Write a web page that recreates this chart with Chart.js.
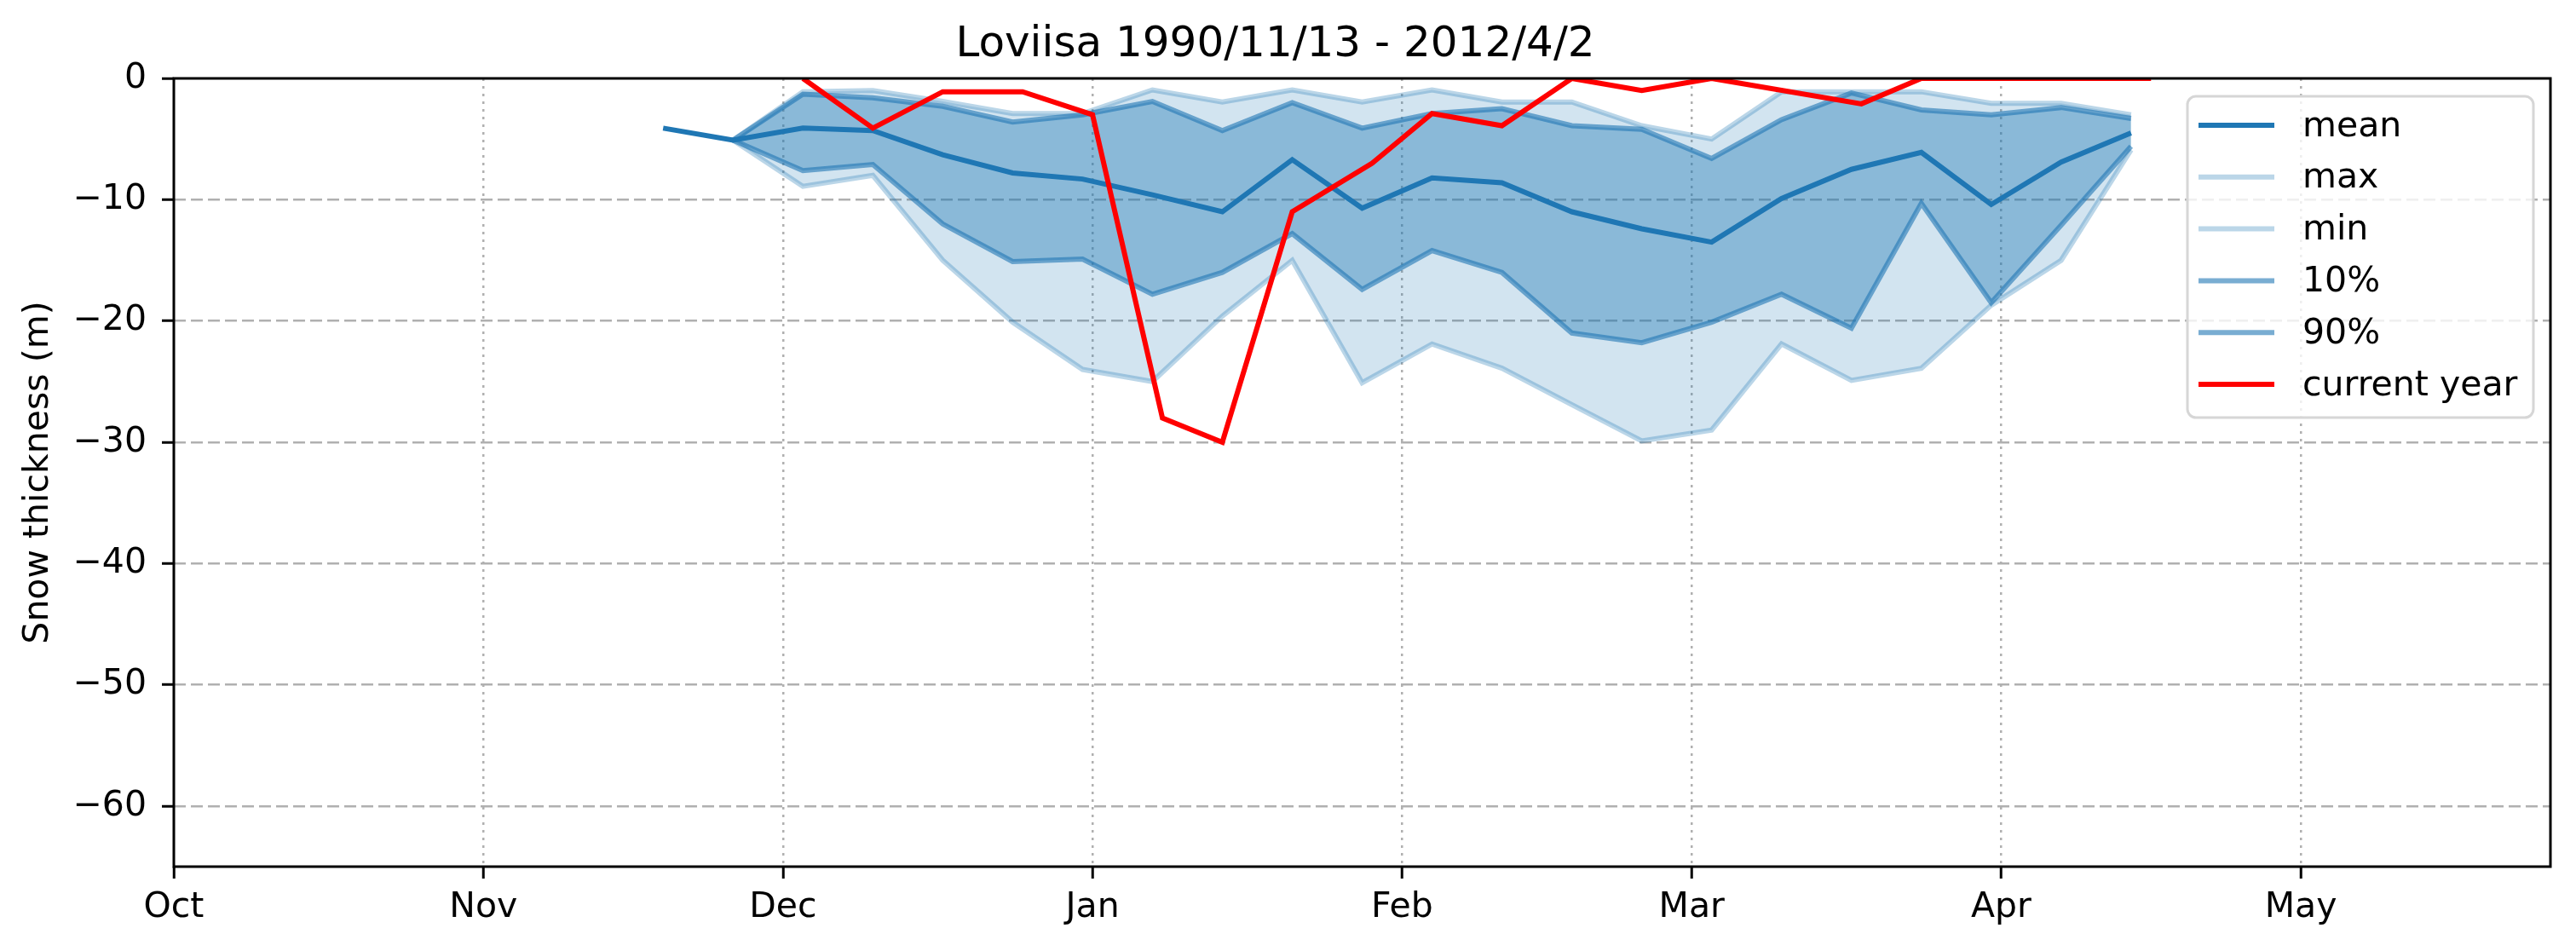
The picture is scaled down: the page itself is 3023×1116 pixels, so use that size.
<!DOCTYPE html>
<html>
<head>
<meta charset="utf-8">
<script src="https://cdn.jsdelivr.net/npm/chart.js@4.4.0/dist/chart.umd.min.js"></script>
<style>
  body { margin: 0; background: #fff; }
  #wrap { width: 3023px; height: 1116px; }
</style>
</head>
<body>
<div id="wrap"><canvas id="myChart"></canvas></div>
<script>
// x values are days since 1 Oct
const monthNames = ['Oct', 'Nov', 'Dec', 'Jan', 'Feb', 'Mar', 'Apr', 'May'];
const monthStarts = [0, 31, 61, 92, 123, 152, 183, 213];
const yTicks = [-60, -50, -40, -30, -20, -10, 0];

const meanDays = [49, 56, 63, 70, 77, 84, 91, 98, 105, 112, 119, 126, 133, 140, 147, 154, 161, 168, 175, 182, 189, 196];
const meanVals = [-4.1, -5.1, -4.1, -4.3, -6.3, -7.8, -8.3, -9.6, -11.0, -6.7, -10.7, -8.2, -8.6, -11.0, -12.4, -13.5, -9.9, -7.5, -6.1, -10.4, -6.9, -4.5];

const statDays = [56, 63, 70, 77, 84, 91, 98, 105, 112, 119, 126, 133, 140, 147, 154, 161, 168, 175, 182, 189, 196];
const maxVals = [-5.1, -1.1, -1.0, -1.9, -2.9, -2.9, -0.95, -1.95, -0.95, -1.95, -0.95, -1.95, -1.95, -3.9, -5.0, -1.1, -1.1, -1.1, -2.05, -2.05, -3.0];
const minVals = [-5.1, -8.9, -8.0, -15.0, -20.1, -24.0, -25.0, -19.6, -15.0, -25.1, -21.9, -23.9, -26.9, -29.9, -29.0, -21.9, -24.9, -23.9, -18.7, -15.0, -5.9];
const p10Vals = [-5.1, -7.6, -7.1, -12.0, -15.1, -14.9, -17.8, -16.0, -12.8, -17.4, -14.2, -16.0, -21.0, -21.8, -20.1, -17.8, -20.6, -10.3, -18.5, -12.1, -5.6];
const p90Vals = [-5.1, -1.3, -1.6, -2.3, -3.6, -3.0, -1.9, -4.3, -2.0, -4.1, -2.9, -2.5, -3.9, -4.2, -6.6, -3.4, -1.2, -2.6, -3.0, -2.4, -3.3];

const currDays = [63, 70, 77, 85, 92, 99, 105, 112, 120, 126, 133, 140, 147, 154, 169, 175, 198];
const currVals = [0, -4.1, -1.1, -1.1, -3.0, -28.0, -30.0, -11.0, -7.0, -2.9, -3.9, 0, -1.0, 0, -2.1, 0, 0];

function pts(days, vals) {
    return days.map((d, i) => ({ x: d, y: vals[i] }));
}

const blue = 'rgba(31, 119, 180, 1)';
const font = 'DejaVu Sans';

// frame around the plot area
const framePlugin = {
    id: 'frame',
    afterDatasetsDraw(chart) {
        const a = chart.chartArea;
        const ctx = chart.ctx;
        ctx.save();
        ctx.strokeStyle = '#000';
        ctx.lineWidth = 3;
        ctx.strokeRect(a.left, a.top, a.right - a.left, a.bottom - a.top);
        ctx.restore();
    }
};

// matplotlib-like legend in the upper right corner
const legendPlugin = {
    id: 'boxLegend',
    afterDraw(chart) {
        const ctx = chart.ctx;
        const x = 2567, y = 113, w = 406, h = 377, r = 10;
        ctx.save();
        ctx.beginPath();
        ctx.roundRect(x, y, w, h, r);
        ctx.fillStyle = 'rgba(255,255,255,0.8)';
        ctx.fill();
        ctx.strokeStyle = '#d6d6d6';
        ctx.lineWidth = 3;
        ctx.stroke();
        ctx.font = '41px "' + font + '"';
        ctx.textBaseline = 'middle';
        ctx.fillStyle = '#000';
        chart.data.datasets.forEach((ds, i) => {
            const ly = 147 + i * 60.8;
            ctx.beginPath();
            ctx.strokeStyle = ds.borderColor;
            ctx.lineWidth = 6;
            ctx.moveTo(2580, ly);
            ctx.lineTo(2669, ly);
            ctx.stroke();
            ctx.fillText(ds.label, 2702, ly + 2);
        });
        ctx.restore();
    }
};

const canvas = document.getElementById('myChart');

new Chart(canvas, {
    type: 'line',
    data: {
        datasets: [
            {
                label: 'mean',
                data: pts(meanDays, meanVals),
                borderColor: blue,
                borderWidth: 6,
                order: 1
            },
            {
                label: 'max',
                data: pts(statDays, maxVals),
                borderColor: 'rgba(31, 119, 180, 0.3)',
                borderWidth: 6,
                fill: { target: 2 },
                backgroundColor: 'rgba(31, 119, 180, 0.2)',
                order: 4
            },
            {
                label: 'min',
                data: pts(statDays, minVals),
                borderColor: 'rgba(31, 119, 180, 0.3)',
                borderWidth: 6,
                order: 5
            },
            {
                label: '10%',
                data: pts(statDays, p10Vals),
                borderColor: 'rgba(31, 119, 180, 0.6)',
                borderWidth: 6,
                order: 2
            },
            {
                label: '90%',
                data: pts(statDays, p90Vals),
                borderColor: 'rgba(31, 119, 180, 0.6)',
                borderWidth: 6,
                fill: { target: 3 },
                backgroundColor: 'rgba(31, 119, 180, 0.4)',
                order: 3
            },
            {
                label: 'current year',
                data: pts(currDays, currVals),
                borderColor: '#ff0000',
                borderWidth: 6,
                order: 0
            }
        ]
    },
    options: {
        responsive: true,
        maintainAspectRatio: false,
        devicePixelRatio: 1,
        animation: false,
        elements: {
            point: { radius: 0, hoverRadius: 0 },
            line: { tension: 0 }
        },
        layout: { padding: { left: 0, right: 30, top: 0, bottom: 0 } },
        plugins: {
            legend: { display: false },
            tooltip: { enabled: false },
            filler: { drawTime: 'beforeDatasetsDraw' },
            title: {
                display: true,
                text: 'Loviisa 1990/11/13 - 2012/4/2',
                color: '#000',
                font: { family: font, size: 50, weight: 'normal' },
                padding: { top: 23, bottom: 9 }
            }
        },
        scales: {
            x: {
                type: 'linear',
                min: 0,
                max: 238,
                afterBuildTicks: scale => {
                    scale.ticks = monthStarts.map(v => ({ value: v }));
                },
                afterFit: scale => { scale.height = 99; },
                ticks: {
                    autoSkip: false,
                    maxRotation: 0,
                    padding: 10,
                    color: '#000',
                    font: { family: font, size: 41 },
                    callback: (v, i) => monthNames[i]
                },
                grid: {
                    color: ctx => (ctx.tick && ctx.tick.value === 0) ? 'rgba(0,0,0,0)' : '#b0b0b0',
                    lineWidth: 2.5,
                    tickColor: '#000',
                    tickWidth: 3,
                    tickLength: 14
                },
                border: { display: false, dash: [3, 6] }
            },
            y: {
                min: -65,
                max: 0,
                afterBuildTicks: scale => {
                    scale.ticks = yTicks.map(v => ({ value: v }));
                },
                afterFit: scale => { scale.width = 204; },
                ticks: {
                    padding: 18,
                    color: '#000',
                    font: { family: font, size: 41 },
                    callback: v => v === 0 ? '0' : '\u2212' + Math.abs(v)
                },
                grid: {
                    color: ctx => (ctx.tick && ctx.tick.value === 0) ? 'rgba(0,0,0,0)' : '#b0b0b0',
                    lineWidth: 2.5,
                    tickColor: '#000',
                    tickWidth: 3,
                    tickLength: 14
                },
                border: { display: false, dash: [14, 6] },
                title: {
                    display: true,
                    text: 'Snow thickness (m)',
                    color: '#000',
                    font: { family: font, size: 41 },
                    padding: { top: 21, bottom: 0 }
                }
            }
        }
    },
    plugins: [framePlugin, legendPlugin]
});
</script>
</body>
</html>
